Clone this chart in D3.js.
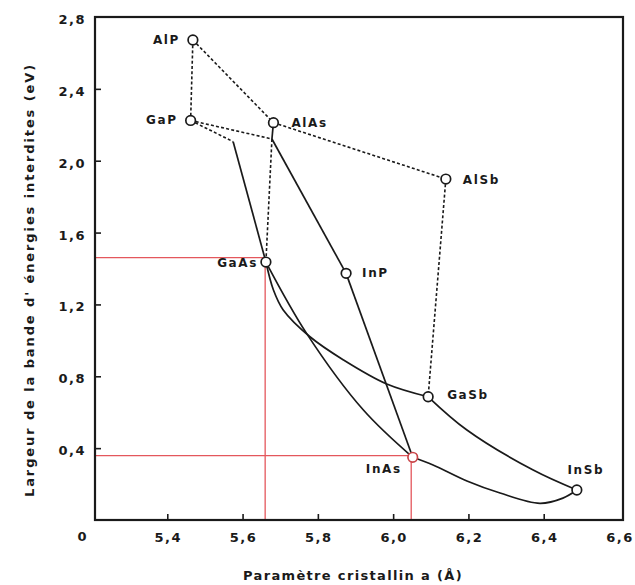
<!DOCTYPE html>
<html><head><meta charset="utf-8">
<script src="https://cdn.jsdelivr.net/npm/d3@7"></script>
<style>
html,body{margin:0;padding:0;background:#fff;}
svg{display:block;}
text{font-family:"DejaVu Sans",sans-serif;font-weight:bold;fill:#1a1a1a;}
</style></head>
<body>
<svg id="chart" width="635" height="585"></svg>
<script>
// ---- data (lattice parameter in Å, band gap in eV) ----
const compounds = ["AlP","GaP","AlAs","GaAs","AlSb","InP","GaSb","InAs","InSb"];
const latticeA  = [5.468, 5.462, 5.682, 5.662, 6.140, 5.875, 6.093, 6.052, 6.488];
const bandGap   = [2.672, 2.224, 2.212, 1.436, 1.898, 1.373, 0.686, 0.349, 0.167];

// junction points on the alloy curves
const junctionAlAs = [5.678, 2.121];
const kinkGaP      = [5.575, 2.106];

// dashed (indirect gap) alloy lines
const dashedLines = [
  [[5.468,2.672],[5.462,2.224]],           // AlP - GaP
  [[5.468,2.672],[5.682,2.212]],           // AlP - AlAs
  [[5.462,2.224],[5.678,2.121]],           // GaP - junction
  [[5.462,2.224],[5.575,2.106]],           // GaP - kink
  [[5.678,2.121],[5.662,1.436]],           // junction - GaAs
  [[5.682,2.212],[6.140,1.898]],           // AlAs - AlSb
  [[6.140,1.898],[6.093,0.686]]            // AlSb - GaSb
];
// solid straight alloy lines
const solidLines = [
  [[5.682,2.212],[5.678,2.121]],           // AlAs - junction
  [[5.575,2.106],[5.662,1.436]],           // kink - GaAs
  [[5.678,2.121],[5.875,1.373]],           // junction - InP
  [[5.875,1.373],[6.052,0.349]]            // InP - InAs
];
// solid curved alloy lines
const curveGaAsGaSb = [[5.662,1.436],[5.682,1.280],[5.708,1.169],[5.779,1.020],[5.868,0.891],[5.983,0.757],[6.093,0.686]];
const curveGaAsInAs = [[5.662,1.436],[5.770,1.039],[5.921,0.612],[6.052,0.349]];
const curveGaSbInSb = [[6.093,0.686],[6.196,0.501],[6.372,0.278],[6.488,0.167]];
const curveInAsInSb = [[6.052,0.349],[6.106,0.306],[6.196,0.217],[6.284,0.150],[6.390,0.093],[6.451,0.122],[6.488,0.167]];

// red reading lines (GaAs, InAs)
const markerA  = [5.660, 6.048];
const markerEg = [1.461, 0.358];

const xTicks = [5.4, 5.6, 5.8, 6.0, 6.2, 6.4, 6.6];
const xTickLabels = ["5,4","5,6","5,8","6,0","6,2","6,4","6,6"];
const yTicks = [0.4, 0.8, 1.2, 1.6, 2.0, 2.4, 2.8];
const yTickLabels = ["0,4","0,8","1,2","1,6","2,0","2,4","2,8"];
const xTitle = "Paramètre cristallin a (Å)";
const yTitle = "Largeur de la bande d' énergies interdites (eV)";

// ---- layout ----
const svg = d3.select("#chart");
const x = d3.scaleLinear().domain([5.2, 6.6]).range([92, 619]);
const y = d3.scaleLinear().domain([0, 2.8]).range([520, 17]);
const frameL = 95, frameR = 623, frameT = y(2.8), frameB = y(0);

// label placement offsets (layout only)
const labelPos = {
  AlP:{dx:-13,dy:4,anchor:"end"}, GaP:{dx:-13,dy:4,anchor:"end"},
  AlAs:{dx:18,dy:4,anchor:"start"}, GaAs:{dx:-8,dy:5,anchor:"end"},
  AlSb:{dx:17,dy:5,anchor:"start"}, InP:{dx:16,dy:4,anchor:"start"},
  GaSb:{dx:19,dy:2,anchor:"start"}, InAs:{dx:-11,dy:16,anchor:"end"},
  InSb:{dx:9,dy:-16,anchor:"middle"}
};

// red reading lines
const red = svg.append("g").attr("stroke","#e4575c").attr("stroke-width",1.3).attr("fill","none");
markerA.forEach((a,i)=>{
  red.append("line").attr("x1",frameL).attr("x2",x(a)).attr("y1",y(markerEg[i])).attr("y2",y(markerEg[i]));
  red.append("line").attr("x1",x(a)).attr("x2",x(a)).attr("y1",y(markerEg[i])).attr("y2",frameB);
});

// frame
svg.append("rect").attr("x",frameL).attr("y",frameT).attr("width",frameR-frameL).attr("height",frameB-frameT)
  .attr("fill","none").attr("stroke","#1a1a1a").attr("stroke-width",2.2);

// axes (inward ticks)
const xAxis = d3.axisBottom(x).tickValues(xTicks.slice(0,-1)).tickSize(-6).tickFormat("");
const gx = svg.append("g").attr("transform",`translate(0,${frameB})`).call(xAxis);
gx.select(".domain").remove();
gx.selectAll("line").attr("stroke","#1a1a1a").attr("stroke-width",1.6);
const yAxis = d3.axisLeft(y).tickValues(yTicks.slice(0,-1)).tickSize(-6).tickFormat("");
const gy = svg.append("g").attr("transform",`translate(${frameL},0)`).call(yAxis);
gy.select(".domain").remove();
gy.selectAll("line").attr("stroke","#1a1a1a").attr("stroke-width",1.6);

// tick labels
svg.append("g").selectAll("text").data(xTicks).join("text")
  .attr("x",d=>x(d)+1).attr("y",542).attr("text-anchor","middle")
  .attr("font-size",13).attr("letter-spacing",1.5)
  .text((d,i)=>xTickLabels[i]);
svg.append("g").selectAll("text").data(yTicks).join("text")
  .attr("x",86).attr("y",d=>y(d)+7).attr("text-anchor","end")
  .attr("font-size",13).attr("letter-spacing",1.5)
  .text((d,i)=>yTickLabels[i]);
svg.append("text").attr("x",82).attr("y",541).attr("text-anchor","middle").attr("font-size",13).text("0");

// titles
function fit(sel, target){
  const n = sel.text().length;
  const len = sel.node().getComputedTextLength();
  sel.attr("letter-spacing", Math.max(0,(target-len)/n));
}
const xt = svg.append("text").attr("x",353).attr("y",580).attr("text-anchor","middle").attr("font-size",13).text(xTitle);
fit(xt,220);
const yt = svg.append("text").attr("transform","translate(34,280) rotate(-90)").attr("text-anchor","middle").attr("font-size",13).text(yTitle);
fit(yt,434);

// lines
const line = d3.line().x(d=>x(d[0])).y(d=>y(d[1]));
const curve = d3.line().x(d=>x(d[0])).y(d=>y(d[1])).curve(d3.curveCatmullRom.alpha(0.5));
const lg = svg.append("g").attr("fill","none").attr("stroke","#1a1a1a");
lg.selectAll("path.d").data(dashedLines).join("path").attr("class","d")
  .attr("d",line).attr("stroke-width",1.6).attr("stroke-dasharray","3,2.2");
lg.selectAll("path.s").data(solidLines).join("path").attr("class","s")
  .attr("d",line).attr("stroke-width",1.7);
lg.selectAll("path.c").data([curveGaAsGaSb,curveGaAsInAs,curveGaSbInSb,curveInAsInSb]).join("path").attr("class","c")
  .attr("d",curve).attr("stroke-width",1.7);

// compound points
svg.append("g").selectAll("circle").data(compounds).join("circle")
  .attr("cx",(d,i)=>x(latticeA[i])).attr("cy",(d,i)=>y(bandGap[i])).attr("r",4.8)
  .attr("fill","#fff").attr("stroke",d=>d==="InAs"?"#c84448":"#1a1a1a").attr("stroke-width",1.7);

// compound labels
svg.append("g").selectAll("text").data(compounds).join("text")
  .attr("x",(d,i)=>x(latticeA[i])+labelPos[d].dx)
  .attr("y",(d,i)=>y(bandGap[i])+labelPos[d].dy)
  .attr("text-anchor",d=>labelPos[d].anchor)
  .attr("font-size",12).attr("letter-spacing",1.6)
  .text(d=>d);
</script>
</body></html>
